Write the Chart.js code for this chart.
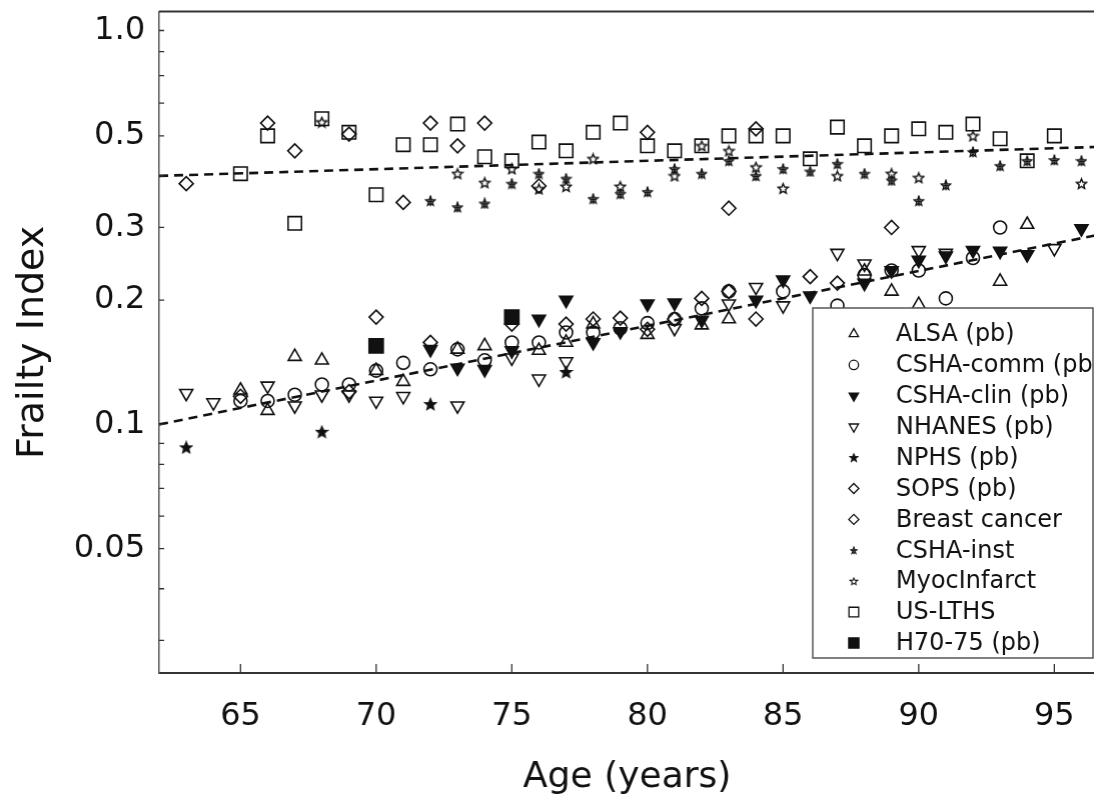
<!DOCTYPE html>
<html>
<head>
<meta charset="utf-8">
<script src="https://cdn.jsdelivr.net/npm/chart.js"></script>
<style>
  html, body { margin: 0; padding: 0; overflow: hidden; background: #fff; }
  #wrap { width: 1094px; height: 799px; }
  #frailty-chart { display: block; }
</style>
</head>
<body>
<div id="wrap"><canvas id="frailty-chart"></canvas></div>
<script>
// axis ticks
const ageTicks = [65, 70, 75, 80, 85, 90, 95];
const fiTickValues = [0.05, 0.1, 0.2, 0.3, 0.5, 0.9];
const fiTickLabels = ['0.05', '0.1', '0.2', '0.3', '0.5', '1.0'];
const fiMinorTicks = [0.03, 0.04, 0.06, 0.07, 0.08, 0.09, 0.4, 0.6, 0.7, 0.8];

// series (age, frailty index)
const alsaAge = [65, 66, 67, 68, 70, 71, 73, 74, 76, 77, 78, 80, 82, 83, 88, 89, 90, 93, 94];
const alsaFI = [0.121, 0.108, 0.146, 0.143, 0.135, 0.127, 0.152, 0.155, 0.151, 0.158, 0.175, 0.165, 0.174, 0.180, 0.235, 0.210, 0.195, 0.222, 0.305];

const commAge = [65, 66, 67, 68, 69, 70, 71, 72, 73, 74, 75, 76, 77, 78, 79, 80, 81, 82, 83, 85, 87, 88, 89, 90, 91, 92, 93];
const commFI = [0.114, 0.114, 0.118, 0.125, 0.125, 0.135, 0.141, 0.136, 0.152, 0.143, 0.158, 0.158, 0.167, 0.167, 0.171, 0.176, 0.180, 0.191, 0.210, 0.210, 0.194, 0.230, 0.236, 0.236, 0.202, 0.253, 0.300];

const clinAge = [72, 73, 74, 75, 76, 77, 78, 79, 80, 81, 82, 84, 85, 86, 88, 89, 90, 91, 92, 93, 94, 96];
const clinFI = [0.152, 0.137, 0.136, 0.151, 0.180, 0.200, 0.158, 0.168, 0.196, 0.197, 0.179, 0.200, 0.224, 0.205, 0.220, 0.236, 0.250, 0.256, 0.264, 0.263, 0.258, 0.298];

const nhanesAge = [63, 64, 66, 67, 68, 69, 70, 71, 73, 75, 76, 77, 81, 83, 84, 85, 87, 88, 90, 91, 95];
const nhanesFI = [0.119, 0.113, 0.124, 0.111, 0.118, 0.118, 0.114, 0.117, 0.111, 0.145, 0.129, 0.142, 0.171, 0.196, 0.215, 0.194, 0.260, 0.245, 0.264, 0.260, 0.267];

const nphsAge = [63, 68, 72, 77];
const nphsFI = [0.088, 0.096, 0.112, 0.134];

const sopsAge = [65, 69, 70, 72, 75, 77, 78, 79, 80, 81, 82, 83, 84, 86, 87, 89];
const sopsFI = [0.117, 0.120, 0.182, 0.158, 0.175, 0.175, 0.180, 0.181, 0.170, 0.180, 0.202, 0.210, 0.180, 0.228, 0.220, 0.300];

const breastAge = [63, 66, 67, 69, 71, 72, 73, 74, 76, 80, 83, 84];
const breastFI = [0.383, 0.537, 0.460, 0.505, 0.345, 0.537, 0.473, 0.537, 0.378, 0.510, 0.334, 0.520];

const instAge = [72, 73, 74, 75, 76, 77, 78, 79, 80, 81, 82, 83, 84, 85, 86, 87, 88, 89, 90, 91, 92, 93, 94, 95, 96];
const instFI = [0.348, 0.336, 0.343, 0.383, 0.405, 0.394, 0.352, 0.362, 0.366, 0.416, 0.405, 0.435, 0.400, 0.416, 0.410, 0.428, 0.405, 0.390, 0.348, 0.380, 0.457, 0.423, 0.435, 0.437, 0.435];

const myocAge = [68, 73, 74, 75, 76, 77, 78, 79, 81, 82, 83, 84, 85, 87, 89, 90, 92, 96];
const myocFI = [0.540, 0.405, 0.385, 0.416, 0.372, 0.377, 0.440, 0.377, 0.400, 0.473, 0.460, 0.420, 0.373, 0.400, 0.405, 0.396, 0.500, 0.383];

const lthsAge = [65, 66, 67, 68, 69, 70, 71, 72, 73, 74, 75, 76, 77, 78, 79, 80, 81, 82, 83, 84, 85, 86, 87, 88, 89, 90, 91, 92, 93, 94, 95];
const lthsFI = [0.405, 0.500, 0.307, 0.550, 0.510, 0.360, 0.476, 0.476, 0.534, 0.445, 0.435, 0.483, 0.460, 0.510, 0.537, 0.473, 0.460, 0.473, 0.500, 0.500, 0.500, 0.440, 0.525, 0.473, 0.500, 0.520, 0.510, 0.534, 0.492, 0.435, 0.500];

const h70Age = [70, 75];
const h70FI = [0.155, 0.182];

// dashed fits
const fitAge = [62, 96.5];
const upperFitFI = [0.40, 0.47];
const lowerFitFI = [0.10, 0.287];

const INK = '#111';
const FONT = "'DejaVu Sans', sans-serif";
const FIG_W = 1094;

function pts(ages, vals) {
  return ages.map((a, i) => ({ x: a, y: vals[i] }));
}

// 5-point star markers as small canvases
function starMark(size, filled, withCross) {
  const c = document.createElement('canvas');
  c.width = size; c.height = size;
  const g = c.getContext('2d');
  g.translate(size / 2, size / 2 + 0.5);
  const R = size / 2 - 1.2, r = R * 0.45;
  g.beginPath();
  for (let k = 0; k < 10; k++) {
    const a = -Math.PI / 2 + k * Math.PI / 5;
    const rr = k % 2 ? r : R;
    g.lineTo(Math.cos(a) * rr, Math.sin(a) * rr);
  }
  g.closePath();
  g.lineWidth = 1.4;
  g.strokeStyle = INK;
  g.fillStyle = INK;
  if (filled) g.fill();
  g.stroke();
  if (withCross) {
    g.beginPath();
    g.moveTo(0, -R - 1); g.lineTo(0, R);
    g.moveTo(-r, 0); g.lineTo(r, 0);
    g.stroke();
  }
  return c;
}

const starFilled = starMark(14, true, false);
const starOpen = starMark(13, false, false);
const starInst = starMark(12, false, true);

function scatter(label, ages, vals, style, opts) {
  return Object.assign({
    type: 'scatter',
    label: label,
    data: pts(ages, vals),
    pointStyle: style,
    pointRadius: 7,
    pointBorderWidth: 1.6,
    borderColor: INK,
    backgroundColor: 'transparent',
    pointRotation: 0
  }, opts || {});
}

function fitLine(vals) {
  return {
    type: 'line',
    label: '',
    data: pts(fitAge, vals),
    borderColor: INK,
    borderWidth: 2.6,
    borderDash: [9, 6],
    pointRadius: 0,
    fill: false,
    inLegend: false
  };
}

const datasets = [
  fitLine(upperFitFI),
  fitLine(lowerFitFI),
  scatter('ALSA (pb)', alsaAge, alsaFI, 'triangle', { pointRadius: 7.5 }),
  scatter('CSHA-comm (pb)', commAge, commFI, 'circle', { pointRadius: 6.5 }),
  scatter('CSHA-clin (pb)', clinAge, clinFI, 'triangle', { pointRadius: 7.5, pointRotation: 180, backgroundColor: INK }),
  scatter('NHANES (pb)', nhanesAge, nhanesFI, 'triangle', { pointRadius: 7.5, pointRotation: 180 }),
  scatter('NPHS (pb)', nphsAge, nphsFI, starFilled),
  scatter('SOPS (pb)', sopsAge, sopsFI, 'rectRot'),
  scatter('Breast cancer', breastAge, breastFI, 'rectRot'),
  scatter('CSHA-inst', instAge, instFI, starInst),
  scatter('MyocInfarct', myocAge, myocFI, starOpen),
  scatter('US-LTHS', lthsAge, lthsFI, 'rect', { pointRadius: 9.5 }),
  scatter('H70-75 (pb)', h70Age, h70FI, 'rect', { pointRadius: 10, backgroundColor: INK })
];

function drawMarker(ctx, ds, x, y, k) {
  const st = ds.pointStyle;
  ctx.save();
  ctx.translate(x, y);
  if (typeof st === 'object') {
    const w = st.width * k, h = st.height * k;
    ctx.drawImage(st, -w / 2, -h / 2, w, h);
    ctx.restore();
    return;
  }
  const r = ds.pointRadius * k;
  ctx.rotate((ds.pointRotation || 0) * Math.PI / 180);
  ctx.beginPath();
  if (st === 'circle') {
    ctx.arc(0, 0, r, 0, Math.PI * 2);
  } else if (st === 'triangle') {
    for (let i = 0; i < 3; i++) {
      const a = i * 2 * Math.PI / 3;
      ctx.lineTo(Math.sin(a) * r, -Math.cos(a) * r);
    }
    ctx.closePath();
  } else if (st === 'rectRot') {
    ctx.moveTo(-r, 0); ctx.lineTo(0, -r); ctx.lineTo(r, 0); ctx.lineTo(0, r);
    ctx.closePath();
  } else {
    const s = r * Math.SQRT1_2;
    ctx.rect(-s, -s, 2 * s, 2 * s);
  }
  ctx.lineWidth = 1.3;
  ctx.strokeStyle = INK;
  if (ds.backgroundColor !== 'transparent') {
    ctx.fillStyle = ds.backgroundColor;
    ctx.fill();
  }
  ctx.stroke();
  ctx.restore();
}

// frame, inward ticks and boxed legend
const framePlugin = {
  id: 'frame',
  afterDraw(chart) {
    const ctx = chart.ctx;
    const a = chart.chartArea;
    const xs = chart.scales.x, ys = chart.scales.y;
    ctx.save();
    ctx.strokeStyle = '#333';
    ctx.lineWidth = 2;
    ctx.beginPath();
    ctx.moveTo(a.left, a.top);
    ctx.lineTo(a.right, a.top);
    ctx.stroke();

    ctx.lineWidth = 1.3;
    ctx.beginPath();
    ageTicks.forEach(v => {
      const px = xs.getPixelForValue(v);
      ctx.moveTo(px, a.bottom);
      ctx.lineTo(px, a.bottom - 9);
    });
    fiTickValues.concat(fiMinorTicks).forEach(v => {
      const py = ys.getPixelForValue(v);
      ctx.moveTo(a.left, py);
      ctx.lineTo(a.left + 5, py);
    });
    ctx.stroke();

    // legend box in the lower right of the plot
    const items = chart.data.datasets.filter(d => d.inLegend !== false);
    const bw = 280, bh = 350;
    const bx = a.right - bw - 2, by = a.bottom - bh - 15;
    ctx.fillStyle = '#fff';
    ctx.fillRect(bx, by, bw, bh);
    ctx.strokeStyle = '#555';
    ctx.lineWidth = 1.5;
    ctx.strokeRect(bx, by, bw, bh);
    ctx.font = "24px " + FONT;
    ctx.textBaseline = 'middle';
    ctx.textAlign = 'left';
    items.forEach((d, i) => {
      const ry = by + 26 + i * 30.9;
      drawMarker(ctx, d, bx + 41, ry, 0.72);
      ctx.fillStyle = INK;
      ctx.fillText(d.label, bx + 83, ry + 1);
    });
    ctx.restore();
  }
};

const chart = new Chart(document.getElementById('frailty-chart'), {
  data: { datasets: datasets },
  plugins: [framePlugin],
  options: {
    responsive: true,
    maintainAspectRatio: false,
    animation: false,
    layout: { padding: { top: 6, right: 0, left: 0, bottom: 0 } },
    plugins: {
      legend: { display: false },
      tooltip: { enabled: false }
    },
    scales: {
      x: {
        type: 'linear',
        min: 62,
        max: 96.5,
        afterBuildTicks: s => { s.ticks = ageTicks.map(v => ({ value: v })); },
        afterFit: s => { s.height = 126; s.paddingLeft = 0; s.paddingRight = 0; },
        grid: { display: false, drawTicks: false },
        border: { display: true, color: '#333', width: 2 },
        ticks: {
          padding: 24,
          color: INK,
          font: { family: FONT, size: 32 },
          maxRotation: 0,
          autoSkip: false
        },
        title: {
          display: true,
          text: 'Age (years)',
          color: INK,
          font: { family: FONT, size: 36 },
          padding: { top: 0, bottom: 0 }
        }
      },
      y: {
        type: 'logarithmic',
        min: 0.025,
        max: 1.0,
        afterBuildTicks: s => { s.ticks = fiTickValues.map(v => ({ value: v })); },
        afterFit: s => { s.width = 159; s.paddingTop = 0; s.paddingBottom = 0; },
        grid: { display: false, drawTicks: false },
        border: { display: true, color: '#555', width: 1.5 },
        ticks: {
          padding: 14,
          color: INK,
          font: { family: FONT, size: 32 },
          autoSkip: false,
          callback: (v, i) => fiTickLabels[i]
        },
        title: {
          display: true,
          text: 'Frailty Index',
          color: INK,
          font: { family: FONT, size: 38 },
          padding: { top: 10, bottom: 0 }
        }
      }
    }
  }
});

// the plot runs to the right edge of the figure: widen the container by the
// space Chart.js keeps free on the right; the page itself stays FIG_W wide
const gap = chart.chartArea ? FIG_W - chart.chartArea.right : 0;
if (gap > 0.5 && gap < 60) {
  document.getElementById('wrap').style.width = (FIG_W + gap) + 'px';
  chart.resize();
}
</script>
</body>
</html>
